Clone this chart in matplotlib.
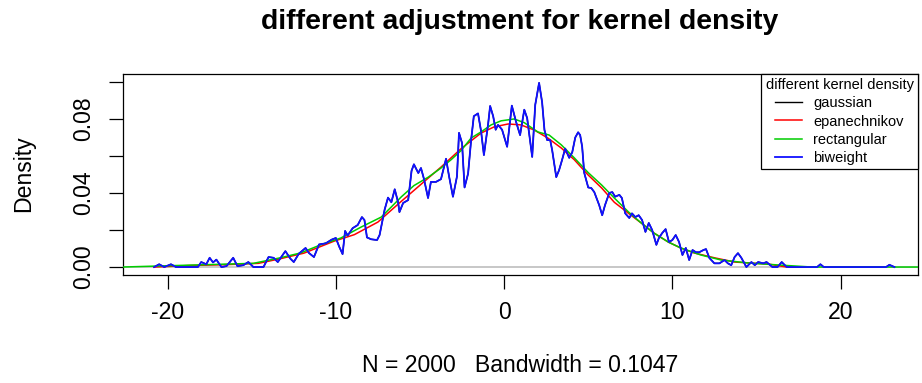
import matplotlib
matplotlib.use("Agg")
import matplotlib.pyplot as plt

plt.rcParams['font.family'] = ['Liberation Sans', 'DejaVu Sans']

# biweight / gaussian density (small bandwidth, very wiggly)
bi_x = [-20.8, -20.5, -20.2, -19.8, -19.5, -18.2, -18.0, -17.7, -17.5, -17.3,
        -17.1, -16.8, -16.5, -16.1, -15.85, -15.5, -15.2, -14.9, -14.3, -14.0,
        -13.7, -13.45, -13.0, -12.7, -12.5, -12.2, -11.8, -11.6, -11.3, -11.0,
        -10.6, -10.25, -10.0, -9.8, -9.6, -9.45, -9.3, -9.0, -8.7, -8.45,
        -8.3, -8.15, -7.9, -7.55, -7.4, -7.1, -6.9, -6.7, -6.5, -6.3,
        -6.22, -6.0, -5.7, -5.5, -5.36, -5.1, -4.94, -4.76, -4.52, -4.35,
        -4.05, -3.75, -3.45, -3.27, -3.04, -2.8, -2.68, -2.5, -2.35, -2.14,
        -1.96, -1.8, -1.55, -1.37, -1.2, -0.95, -0.83, -0.65, -0.5, -0.36,
        -0.12, 0.18, 0.46, 0.71, 0.95, 1.2, 1.37, 1.67, 1.85, 2.08,
        2.26, 2.4, 2.56, 2.74, 2.86, 3.1, 3.27, 3.45, 3.63, 3.87,
        4.05, 4.23, 4.4, 4.52, 4.64, 4.76, 5.0, 5.18, 5.36, 5.65,
        5.83, 6.0, 6.25, 6.43, 6.6, 6.85, 7.0, 7.2, 7.44, 7.6,
        7.8, 8.0, 8.2, 8.4, 8.6, 8.8, 9.05, 9.2, 9.4, 9.6,
        9.8, 10.0, 10.2, 10.4, 10.6, 10.8, 11.0, 11.2, 11.4, 11.6,
        11.85, 12.0, 12.2, 12.5, 12.8, 13.1, 13.3, 13.5, 13.7, 13.9,
        14.1, 14.4, 14.7, 14.9, 15.1, 15.4, 15.6, 15.95, 16.25, 16.5,
        16.8, 18.6, 18.8, 19.0, 22.7, 22.9, 23.2]
bi_y = [0, 0.0015, 0, 0.0015, 0, 0, 0.0027, 0.0015, 0.005, 0.0025,
        0.004, 0, 0.0005, 0.005, 0.0005, 0.001, 0.0027, 0, 0, 0.0054,
        0.005, 0.0027, 0.0086, 0.0045, 0.0027, 0.0072, 0.0103, 0.0076, 0.0054, 0.0122,
        0.0128, 0.0148, 0.0157, 0.011, 0.007, 0.0195, 0.017, 0.021, 0.0227, 0.027,
        0.0254, 0.016, 0.015, 0.0146, 0.0173, 0.031, 0.0375, 0.035, 0.042, 0.035,
        0.0297, 0.0346, 0.0362, 0.052, 0.0555, 0.0508, 0.0535, 0.0475, 0.0373, 0.046,
        0.046, 0.0475, 0.0585, 0.049, 0.038, 0.049, 0.0725, 0.067, 0.043, 0.0505,
        0.0686, 0.0815, 0.083, 0.0735, 0.0605, 0.0772, 0.087, 0.0815, 0.0742, 0.0768,
        0.0742, 0.065, 0.0872, 0.0785, 0.0713, 0.085, 0.0805, 0.0595, 0.0876, 0.0995,
        0.089, 0.074, 0.0686, 0.0686, 0.063, 0.0486, 0.0524, 0.058, 0.064, 0.059,
        0.062, 0.07, 0.0728, 0.0713, 0.065, 0.051, 0.043, 0.0427, 0.0405, 0.0335,
        0.028, 0.0335, 0.04, 0.0405, 0.038, 0.039, 0.0373, 0.029, 0.0265, 0.029,
        0.027, 0.028, 0.0254, 0.019, 0.0238, 0.02, 0.012, 0.0157, 0.0184, 0.0205,
        0.0135, 0.0146, 0.0173, 0.0135, 0.0065, 0.0103, 0.0038, 0.0092, 0.008, 0.008,
        0.0092, 0.0097, 0.0049, 0.002, 0.002, 0.0038, 0.002, 0.001, 0.0054, 0.0075,
        0.005, 0, 0.0027, 0.001, 0.0027, 0.002, 0.0027, 0, 0, 0.0027,
        0, 0, 0.0015, 0, 0, 0.0012, 0]

# the gaussian curve sits right under the biweight one
gauss_x = bi_x
gauss_y = bi_y

# epanechnikov
epa_x = [-20.8, -18.8, -16.5, -14.6, -13.3, -11.9, -10.1, -8.9, -7.5, -6.3,
         -4.9, -3.75, -2.55, -1.37, -0.6, 0.24, 1.0, 1.8, 2.6, 3.4,
         4.17, 5.0, 5.8, 6.55, 7.4, 8.15, 8.9, 9.76, 10.5, 11.3,
         12.5, 13.7, 15.7, 16.8]
epa_y = [0, 0.0008, 0.0013, 0.002, 0.0045, 0.0075, 0.014, 0.0175, 0.0243, 0.034,
         0.045, 0.054, 0.064, 0.0724, 0.0757, 0.0773, 0.0768, 0.074, 0.0697, 0.0643,
         0.058, 0.0497, 0.0427, 0.035, 0.029, 0.0238, 0.0184, 0.0135, 0.0103, 0.0076,
         0.005, 0.0027, 0.0016, 0]

# rectangular
rect_x = [-22.7, -18.8, -14.9, -13.3, -12.1, -10.9, -9.7, -8.5, -7.3, -6.1,
          -5.36, -4.5, -3.75, -3.15, -2.55, -1.96, -1.37, -0.77, -0.18, 0.6,
          1.2, 2.0, 2.68, 3.4, 4.17, 5.0, 5.8, 6.55, 7.4, 8.15,
          8.9, 9.76, 10.5, 11.7, 12.9, 14.5, 16.5, 18.3, 24.6]
rect_y = [0, 0.001, 0.002, 0.005, 0.0076, 0.012, 0.0157, 0.0216, 0.027, 0.038,
          0.044, 0.0486, 0.0535, 0.058, 0.063, 0.0697, 0.073, 0.0768, 0.079, 0.08,
          0.078, 0.073, 0.0713, 0.066, 0.059, 0.051, 0.0443, 0.0373, 0.0297, 0.0238,
          0.0184, 0.0135, 0.0103, 0.0065, 0.0038, 0.0022, 0.001, 0, 0]

kernels = ['gaussian', 'epanechnikov', 'rectangular', 'biweight']
colors = ['black', '#FF0000', '#00CD00', '#1010FF']

x_ticks = [-20, -10, 0, 10, 20]
y_ticks = [0, 0.02, 0.04, 0.06, 0.08, 0.10]
y_tick_labels = ['0.00', '', '0.04', '', '0.08', '']

fig = plt.figure(figsize=(9.22, 3.83), dpi=100)
ax = fig.add_axes([123 / 922, 1 - 275 / 383, (918 - 123) / 922, (275 - 74) / 383])

ax.axhline(0, color='#BEBEBE', lw=1.2, zorder=1)
ax.plot(gauss_x, gauss_y, color=colors[0], lw=1.0, label=kernels[0], zorder=2)
ax.plot(epa_x, epa_y, color=colors[1], lw=1.1, label=kernels[1], zorder=3)
ax.plot(rect_x, rect_y, color=colors[2], lw=1.1, label=kernels[2], zorder=4)
ax.plot(bi_x, bi_y, color=colors[3], lw=1.3, label=kernels[3], zorder=5)

ax.set_xlim(-22.65, 24.6)
ax.set_ylim(-0.0043, 0.1043)
ax.set_xticks(x_ticks)
ax.set_xticklabels([str(t) for t in x_ticks])
ax.set_yticks(y_ticks)
ax.set_yticklabels(y_tick_labels, rotation=90, va='center')
ax.tick_params(axis='both', length=10, width=0.9, labelsize=16.6, direction='out')
ax.tick_params(axis='x', pad=9)
ax.tick_params(axis='y', pad=10)
for s in ax.spines.values():
    s.set_linewidth(0.9)

fig.text(520 / 922, 1 - 22 / 383, 'different adjustment for kernel density',
         ha='center', va='center', fontsize=20.4, fontweight='bold')
fig.text(520 / 922, 1 - 365 / 383, 'N = 2000   Bandwidth = 0.1047',
         ha='center', va='center', fontsize=16.6)
fig.text(24 / 922, 1 - 174 / 383, 'Density', ha='center', va='center',
         rotation=90, fontsize=16.6)

leg = ax.legend(loc='upper right', bbox_to_anchor=(1, 1), borderaxespad=0,
                title='different kernel density', title_fontsize=10.5,
                fontsize=10.5, frameon=True, fancybox=False, framealpha=1,
                edgecolor='black', handlelength=1.8, handletextpad=0.8,
                labelspacing=0.28, borderpad=0.3)
leg.get_frame().set_linewidth(0.9)

fig.savefig('out.png', dpi=100)
